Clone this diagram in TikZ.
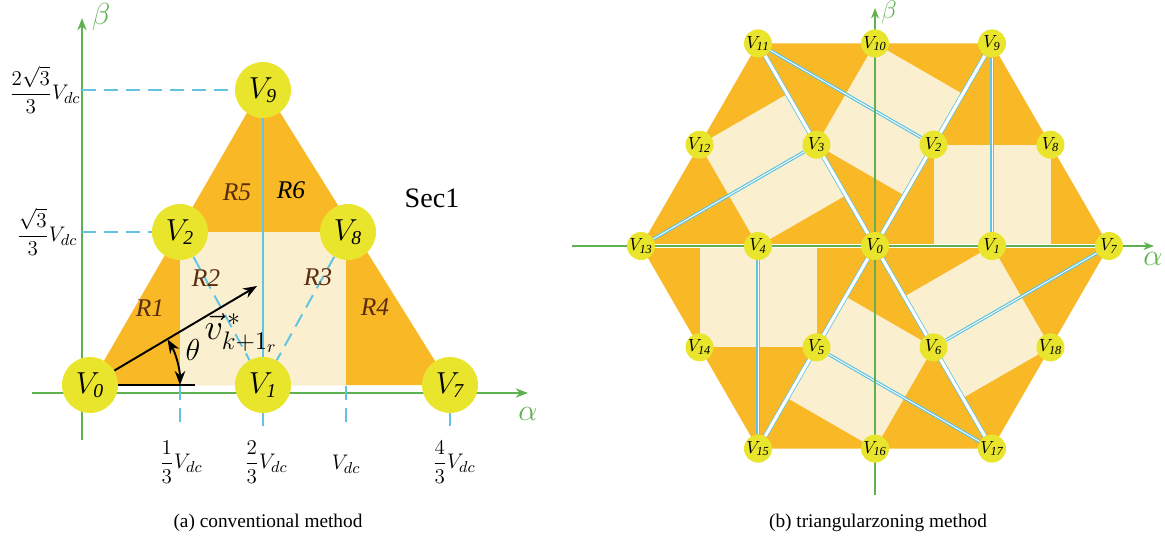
\documentclass[tikz,border=0pt]{standalone}
\usepackage{amsmath}
\usepackage{fontspec}
\setmainfont{Liberation Serif}
\usetikzlibrary{arrows.meta,positioning}

\definecolor{hexorange}{HTML}{F9B826}
\definecolor{cream}{HTML}{FAEFCF}
\definecolor{vyellow}{HTML}{E8E52C}
\definecolor{lineblue}{HTML}{62C4E2}
\definecolor{axisgreen}{HTML}{5FB04E}
\definecolor{regionbrown}{HTML}{5A2C10}

\pgfdeclarelayer{fills}
\pgfdeclarelayer{lines}
\pgfsetlayers{fills,lines,main}

\begin{document}
\begin{tikzpicture}[x=0.02cm, y=-0.02cm, >=Stealth,
  vnode/.style={circle, fill=vyellow, inner sep=0pt, minimum size=1.12cm, font=\fontsize{16}{16}\selectfont},
  vsmall/.style={circle, fill=vyellow, inner sep=0pt, minimum size=0.56cm, font=\fontsize{10}{10}\selectfont},
  axis/.style={draw=axisgreen, line width=1.1pt, -{Stealth[length=7pt]}},
  axisthin/.style={draw=axisgreen, line width=0.8pt, -{Stealth[length=6pt]}},
  guide/.style={draw=lineblue, line width=1.1pt, dash pattern=on 8pt off 4.5pt},
  spoke/.style={draw=lineblue, double=white, line width=0.45pt, double distance=1.8pt},
  altline/.style={draw=lineblue, double=white, line width=0.7pt, double distance=0.5pt},
  region/.style={font=\fontsize{14.5}{14.5}\selectfont\itshape, text=regionbrown},
  tick/.style={font=\fontsize{13}{15}\selectfont},
  axlabel/.style={text=axisgreen, font=\fontsize{17}{17}\selectfont}]
\useasboundingbox (0,0) rectangle (1165,548);

% (a) conventional method
\node[vnode] (a0) at (90,385) {$V_{\mathit{0}}$};
\node[vnode] (a1) at (263,385) {$V_{\mathit{1}}$};
\node[vnode] (a7) at (450,385) {$V_{\mathit{7}}$};
\node[vnode] (a2) at (180,232) {$V_{\mathit{2}}$};
\node[vnode] (a8) at (348,232) {$V_{\mathit{8}}$};
\node[vnode] (a9) at (263,90) {$V_{\mathit{9}}$};

\coordinate (ya) at (82,90);
\coordinate (yb) at (82,232);
\coordinate (vtip) at (257,286);
\coordinate (hend) at (195,385);

\begin{pgfonlayer}{fills}
\fill[hexorange] (a0.center) -- (263,85) -- (a7.center) -- cycle;
\fill[cream] (180,232) rectangle (346,385);
\end{pgfonlayer}

\begin{pgfonlayer}{lines}
\draw[axis] (32,393) -- (528,393);
\draw[axis] (82,440) -- (82,18);
\draw[draw=lineblue, line width=1.1pt] (a9) -- (a1);
\draw[guide] (a2) -- (a1);
\draw[guide] (a8) -- (a1);
\draw[guide] (ya) -- (a9);
\draw[guide] (yb) -- (a2);
\draw[guide] (180,386) -- (180,426);
\draw[guide] (a1) -- (263,426);
\draw[guide] (346,386) -- (346,426);
\draw[guide] (a7) -- (450,426);
\end{pgfonlayer}

\node[axlabel] (alpha) at (528,414) {$\alpha$};
\node[axlabel] (beta) at (101,17) {$\beta$};

\draw[line width=1.1pt, ->] (a0) -- (vtip);
\draw[line width=1.1pt] (a0) -- (hend);
\draw[line width=1.1pt, <->] (180,385) arc[start angle=0, end angle=-30.5, radius=90];
\node[font=\fontsize{18}{18}\selectfont] (theta) at (193,350) {$\theta$};
\node[font=\fontsize{20}{20}\selectfont] (vref) at (241,333) {$\vec{v}^{\,*}_{k+1_r}$};

\node[region] (r1) at (150,308) {R1};
\node[region] (r2) at (206,278) {R2};
\node[region] (r3) at (318,277) {R3};
\node[region] (r4) at (375,307) {R4};
\node[region] (r5) at (237,192) {R5};
\node[region, text=black] (r6) at (291,190) {R6};
\node[font=\fontsize{16}{16}\selectfont] (sec) at (432,198) {Sec1};

\node[tick] (t1) at (45,90) {$\dfrac{2\sqrt{3}}{3}V_{dc}$};
\node[tick] (t2) at (47,232) {$\dfrac{\sqrt{3}}{3}V_{dc}$};
\node[tick] (x1) at (181,462) {$\dfrac{1}{3}V_{dc}$};
\node[tick] (x2) at (266,462) {$\dfrac{2}{3}V_{dc}$};
\node[tick] (x3) at (346,464) {$V_{dc}$};
\node[tick] (x4) at (454,462) {$\dfrac{4}{3}V_{dc}$};

\node[font=\fontsize{11}{11}\selectfont] (capa) at (268,523) {(a) conventional method};

% (b) triangularzoning method
\begin{scope}[shift={(875,246)}]
\node[vsmall] (b0) at (0,0) {$V_{\mathit{0}}$};
\foreach \n/\a in {1/0,2/60,3/120,4/180,5/240,6/300}
  \node[vsmall] (b\n) at (-\a:117) {$V_{\mathit{\n}}$};
\foreach \n/\a in {7/0,9/60,11/120,13/180,15/240,17/300}
  \node[vsmall] (b\n) at (-\a:234) {$V_{\mathit{\n}}$};
\foreach \n/\a in {8/30,10/90,12/150,14/210,16/270,18/330}
  \node[vsmall] (b\n) at (-\a:202.6) {$V_{\mathit{\n}}$};

\begin{pgfonlayer}{fills}
\fill[hexorange] (b7.center) -- (b9.center) -- (b11.center) -- (b13.center) -- (b15.center) -- (b17.center) -- cycle;
\foreach \k in {0,...,5}
  \fill[cream, rotate=60*\k] (58.5,0) -- (175.5,0) -- (175.5,-101.3) -- (58.5,-101.3) -- cycle;
\end{pgfonlayer}

\begin{pgfonlayer}{lines}
\foreach \n in {7,9,11,13,15,17}
  \draw[spoke] (b0) -- (b\n);
\foreach \s/\t in {9/1,11/2,13/3,15/4,17/5,7/6}
  \draw[altline] (b\s) -- (b\t);
\draw[axisthin] (-303,0) -- (279,0);
\draw[axisthin] (0,249) -- (0,-238);
\end{pgfonlayer}
\end{scope}

\node[axlabel] (alphb) at (1153,259) {$\alpha$};
\node[axlabel, font=\fontsize{15}{15}\selectfont] (betb) at (889,12) {$\beta$};

\node[font=\fontsize{11}{11}\selectfont] (capb) at (878,523) {(b) triangularzoning method};
\end{tikzpicture}
\end{document}
